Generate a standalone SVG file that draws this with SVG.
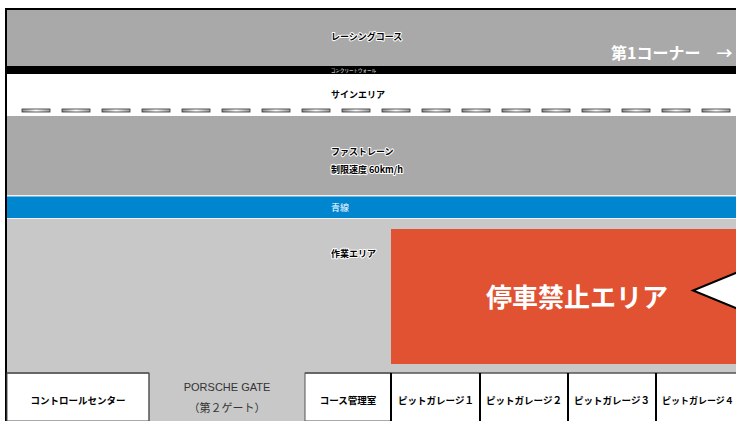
<svg xmlns="http://www.w3.org/2000/svg" width="736" height="421" viewBox="0 0 736 421">
<defs>
<linearGradient id="dashg" x1="0" y1="0" x2="1" y2="0">
<stop offset="0" stop-color="#8a8a8a"/>
<stop offset="0.5" stop-color="#ffffff"/>
<stop offset="1" stop-color="#9a9a9a"/>
</linearGradient>
<style>
.lbl{font-family:"Noto Sans CJK JP","Noto Sans",sans-serif;font-weight:bold;font-size:9px;fill:#000;stroke:#fff;stroke-width:2px;paint-order:stroke;stroke-linejoin:round}
.wl{font-family:"Noto Sans CJK JP","Noto Sans",sans-serif;fill:#fff}
.box{font-family:"Noto Sans CJK JP","Noto Sans",sans-serif;font-weight:bold;font-size:9.5px;fill:#000}
.dash{fill:url(#dashg);stroke:#333;stroke-width:0.8}
</style>
</defs>
<rect width="736" height="421" fill="#fff"/>
<g id="frame">
<rect x="5" y="8" width="731" height="413" fill="#000"/>
</g>
<g id="racing-course">
<rect x="7" y="10" width="729" height="56" fill="#a9a9a9"/>
<text class="lbl" x="331" y="40">レーシングコース</text>
<text class="wl" x="611" y="59" style="font-size:16px;font-weight:bold">第1コーナー　→</text>
</g>
<g id="concrete-wall">
<rect x="7" y="66" width="729" height="8" fill="#000"/>
<text class="wl" x="331" y="72" style="font-size:4.5px">コンクリートウォール</text>
</g>
<g id="sign-area">
<rect x="7" y="74" width="729" height="42" fill="#fff"/>
<text class="lbl" x="331" y="98">サインエリア</text>
<g>
<rect class="dash" x="22" y="109" width="28" height="3"/>
<rect class="dash" x="62" y="109" width="28" height="3"/>
<rect class="dash" x="102" y="109" width="28" height="3"/>
<rect class="dash" x="142" y="109" width="28" height="3"/>
<rect class="dash" x="182" y="109" width="28" height="3"/>
<rect class="dash" x="222" y="109" width="28" height="3"/>
<rect class="dash" x="262" y="109" width="28" height="3"/>
<rect class="dash" x="302" y="109" width="28" height="3"/>
<rect class="dash" x="342" y="109" width="28" height="3"/>
<rect class="dash" x="382" y="109" width="28" height="3"/>
<rect class="dash" x="422" y="109" width="28" height="3"/>
<rect class="dash" x="462" y="109" width="28" height="3"/>
<rect class="dash" x="502" y="109" width="28" height="3"/>
<rect class="dash" x="542" y="109" width="28" height="3"/>
<rect class="dash" x="582" y="109" width="28" height="3"/>
<rect class="dash" x="622" y="109" width="28" height="3"/>
<rect class="dash" x="662" y="109" width="28" height="3"/>
<rect class="dash" x="702" y="109" width="28" height="3"/>
</g>
</g>
<g id="fast-lane">
<rect x="7" y="116" width="729" height="79" fill="#a9a9a9"/>
<text class="lbl" x="331" y="155">ファストレーン</text>
<text class="lbl" x="331" y="173">制限速度 60km/h</text>
</g>
<g id="blue-line">
<rect x="7" y="195" width="729" height="24" fill="#f0f0f0"/>
<rect x="7" y="196.5" width="729" height="21.5" fill="#0085cf"/>
<text class="wl" x="331" y="211" style="font-size:9px">青線</text>
</g>
<g id="work-area">
<rect x="7" y="219" width="729" height="202" fill="#c8c8c8"/>
<text class="lbl" x="331" y="257">作業エリア</text>
</g>
<g id="no-stop-area">
<rect x="391" y="229" width="345" height="135" fill="#e05232"/>
<text class="wl" x="577" y="307" style="font-size:26px;font-weight:bold" text-anchor="middle">停車禁止エリア</text>
<polygon points="738,272 693,290.5 738,309" fill="#fff" stroke="#000" stroke-width="2"/>
</g>
<g id="control-center">
<rect x="7" y="373" width="142" height="48" fill="#fff" stroke="#555" stroke-width="1"/>
<text class="box" x="78" y="404" text-anchor="middle">コントロールセンター</text>
</g>
<g id="porsche-gate">
<text x="227" y="391" font-family="Liberation Sans,'Noto Sans CJK JP',sans-serif" font-size="11" fill="#333" text-anchor="middle">PORSCHE GATE</text>
<text x="227" y="412" font-family="'Noto Sans CJK JP',sans-serif" font-size="11" fill="#333" text-anchor="middle">（第２ゲート）</text>
</g>
<g id="course-office">
<rect x="305" y="373" width="86" height="48" fill="#fff" stroke="#555" stroke-width="1"/>
<text class="box" x="348" y="404" text-anchor="middle">コース管理室</text>
</g>
<g id="pit1">
<rect x="391" y="373" width="89" height="48" fill="#fff"/>
<text class="box" x="436" y="404" text-anchor="middle">ピットガレージ１</text>
</g>
<g id="pit2">
<rect x="480" y="373" width="88" height="48" fill="#fff"/>
<text class="box" x="524" y="404" text-anchor="middle">ピットガレージ２</text>
</g>
<g id="pit3">
<rect x="568" y="373" width="88" height="48" fill="#fff"/>
<text class="box" x="612" y="404" text-anchor="middle">ピットガレージ３</text>
</g>
<g id="pit4">
<rect x="656" y="373" width="82" height="48" fill="#fff"/>
<text class="box" x="662" y="404" text-anchor="start" style="font-size:9px">ピットガレージ４</text>
</g>
<g id="connectors">
<line x1="149" y1="373" x2="149" y2="421" stroke="#555" stroke-width="1"/>
<line x1="305" y1="373" x2="736" y2="373" stroke="#555" stroke-width="1.5"/>
<line x1="7" y1="373" x2="149" y2="373" stroke="#555" stroke-width="1.5"/>
<line x1="391" y1="373" x2="391" y2="421" stroke="#000" stroke-width="2"/>
<line x1="480" y1="373" x2="480" y2="421" stroke="#000" stroke-width="2"/>
<line x1="568" y1="373" x2="568" y2="421" stroke="#000" stroke-width="2"/>
<line x1="656" y1="373" x2="656" y2="421" stroke="#000" stroke-width="2"/>
</g>
</svg>
